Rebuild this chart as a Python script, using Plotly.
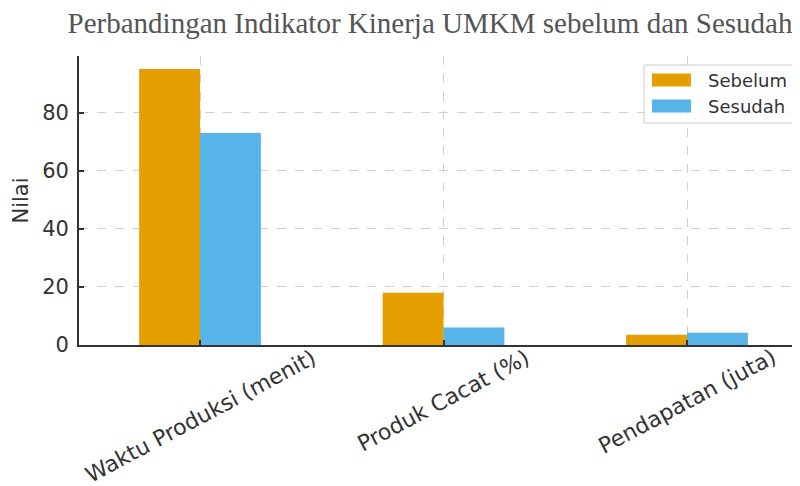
import plotly.graph_objects as go

categories = ["Waktu Produksi (menit)", "Produk Cacat (%)", "Pendapatan (juta)"]
sebelum = [95, 18, 3.5]
sesudah = [73, 6, 4.2]
series_names = ["Sebelum", "Sesudah"]
y_ticks = [0, 20, 40, 60, 80]

# the page body has an 8px margin, so the figure is drawn 8px in from the window edge
OFF = 8
W, H = 800, 486 - OFF
L, R, T, B = 79 - OFF, 0, 56 - OFF, 141
PW = W - L - R
PH = H - T - B

def px_x(px):
    return (px - OFF - L) / PW

def px_y(py):
    return (H - B - (py - OFF)) / PH

ORANGE = "#E69F00"
BLUE = "#56B4E9"
FONT = "DejaVu Sans"
TXT = "#333333"

xs = list(range(len(categories)))

fig = go.Figure()
fig.add_trace(go.Bar(x=xs, y=sebelum, name=series_names[0], marker=dict(color=ORANGE, line=dict(width=0))))
fig.add_trace(go.Bar(x=xs, y=sesudah, name=series_names[1], marker=dict(color=BLUE, line=dict(width=0))))

fig.update_layout(
    width=W, height=H,
    margin=dict(l=L, r=R, t=T, b=B, pad=0),
    paper_bgcolor="white", plot_bgcolor="white",
    barmode="group", bargap=0.5, bargroupgap=0,
    showlegend=False,
    font=dict(family=FONT, color=TXT, size=21),
    title=dict(
        text="Perbandingan Indikator Kinerja UMKM sebelum dan Sesudah",
        font=dict(family="Liberation Serif", size=29, color="#555555"),
        x=(430 - OFF) / W, xanchor="center", xref="container",
        y=1 - (23 - OFF) / H, yanchor="middle", yref="container",
    ),
)

fig.update_xaxes(
    range=[-0.497, -0.497 + PW / 243.5],
    tickvals=xs, showticklabels=False,
    ticks="inside", ticklen=5, tickwidth=1.5, tickcolor="#333333",
    showgrid=True, gridcolor="#d0d0d0", griddash="dash", gridwidth=1,
    showline=True, linecolor="#333333", linewidth=1.8,
    zeroline=False,
)
fig.update_yaxes(
    range=[0, 99.5],
    tickvals=y_ticks,
    ticks="inside", ticklen=5, tickwidth=1.5, tickcolor="#333333",
    tickfont=dict(size=21, color=TXT),
    ticklabelstandoff=4,
    showgrid=True, gridcolor="#d0d0d0", griddash="dash", gridwidth=1,
    showline=True, linecolor="#333333", linewidth=1.8,
    zeroline=False,
    title=dict(text="Nilai", font=dict(size=21, color=TXT), standoff=8),
)

# rotated category labels (centered under each category)
for i, c in enumerate(categories):
    fig.add_annotation(
        x=i, xref="x", y=0, yref="paper",
        text=c, showarrow=False, textangle=-28,
        xanchor="center", yanchor="top", yshift=3,
        font=dict(family=FONT, size=22, color=TXT),
    )

# legend drawn manually
fig.add_shape(type="rect", xref="paper", yref="paper",
              x0=px_x(644), x1=px_x(799), y0=px_y(123), y1=px_y(65),
              line=dict(color="#cccccc", width=1), fillcolor="rgba(255,255,255,0.85)", layer="above")
for nm, col, yc in [(series_names[0], ORANGE, 80), (series_names[1], BLUE, 106)]:
    fig.add_shape(type="rect", xref="paper", yref="paper",
                  x0=px_x(652), x1=px_x(691), y0=px_y(yc + 6.5), y1=px_y(yc - 6.5),
                  line=dict(width=0), fillcolor=col, layer="above")
    fig.add_annotation(x=px_x(706), xref="paper", y=px_y(yc), yref="paper",
                       text=nm, showarrow=False, xanchor="left", yanchor="middle",
                       font=dict(family=FONT, size=18, color=TXT))

fig.write_html("out.html")
